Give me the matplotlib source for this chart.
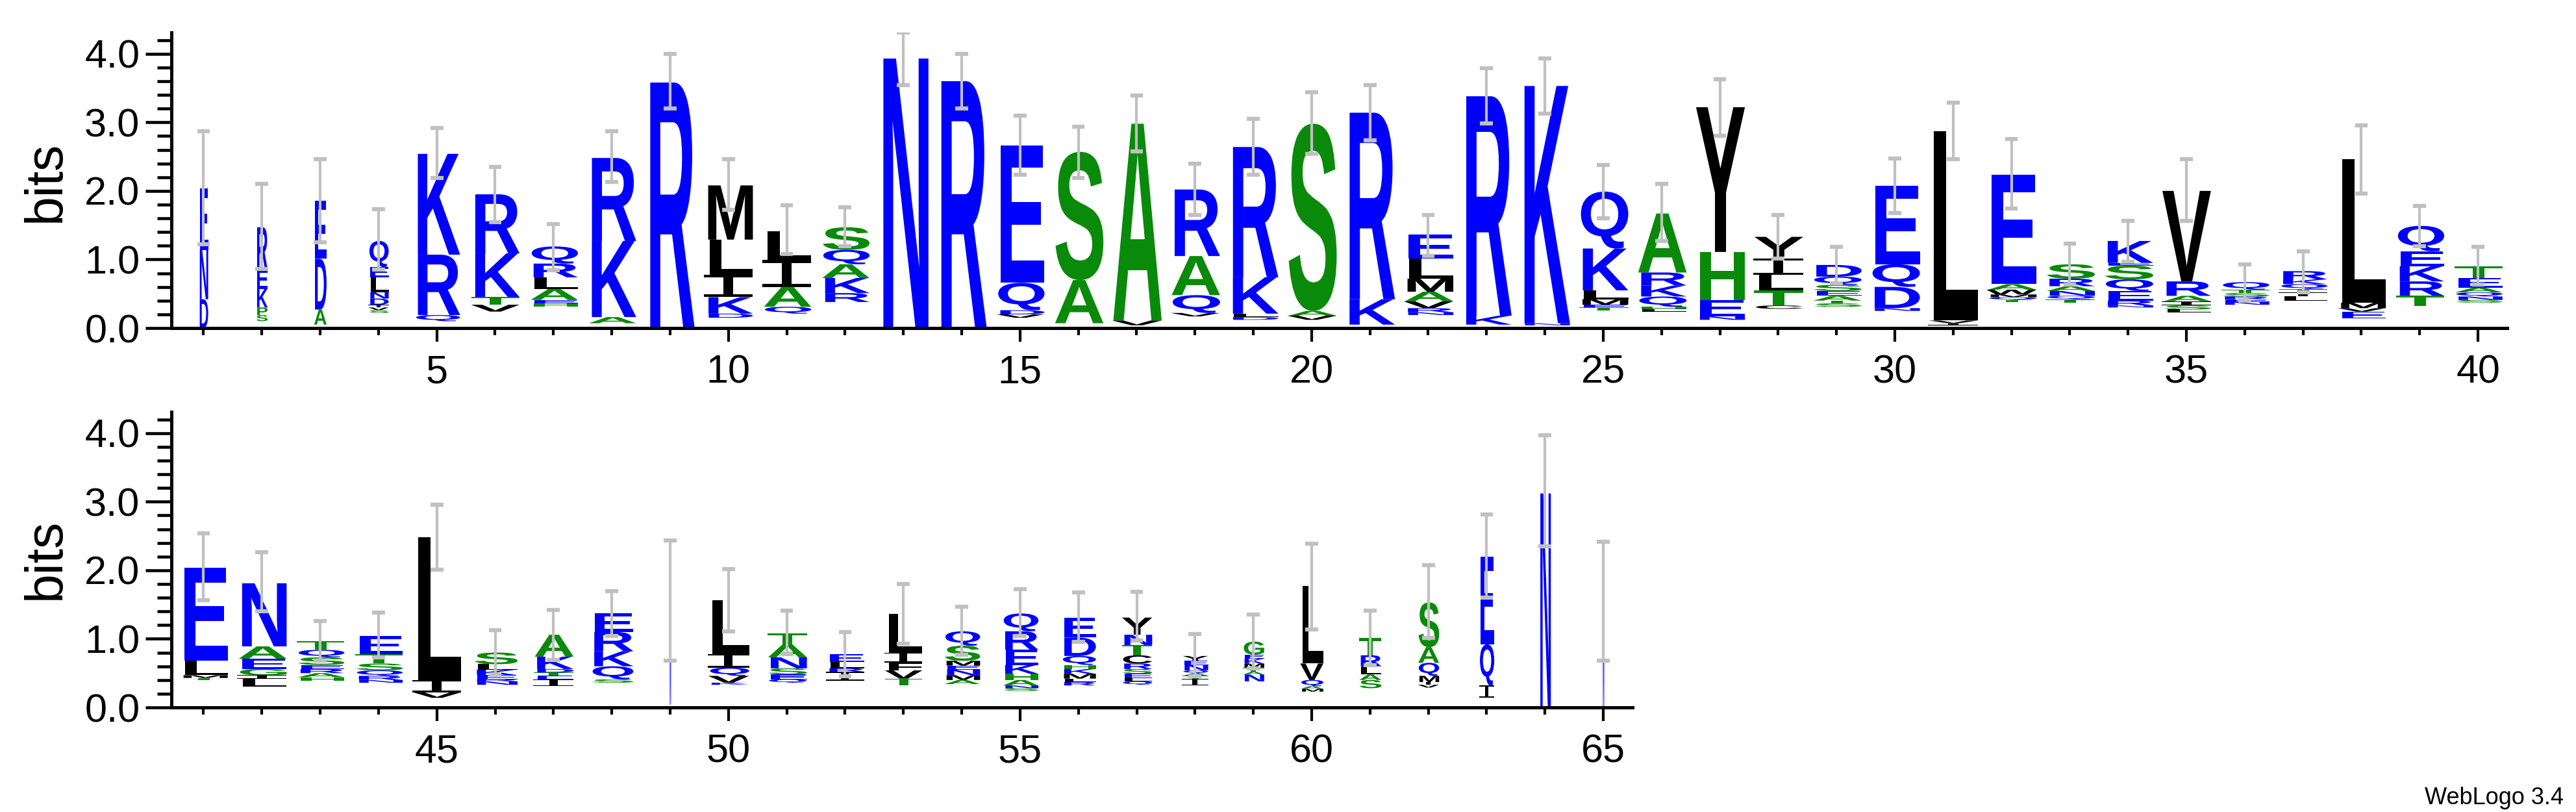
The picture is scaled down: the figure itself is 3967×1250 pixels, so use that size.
import matplotlib
matplotlib.use("Agg")
import matplotlib.pyplot as plt
from matplotlib.textpath import TextPath
from matplotlib.font_manager import FontProperties
from matplotlib.patches import PathPatch, Rectangle
from matplotlib.path import Path
from matplotlib.ticker import MultipleLocator, FormatStrFormatter

# letters listed bottom -> top, heights in bits; stacks hang from the measured top
stack_letters = [
    "DNE", "SPKER", "ADE", "SVIDNLEQ", "QRK", "VTKR", "HEALRQ", "AKR", "R", "DKILM",
    "QAIL", "RKAQS", "N", "R", "VDQE", "AS", "VA", "VQAR", "DLKR", "VAS",
    "KR", "NRVAMLE", "KR", "NK", "TEMLKQ", "LHQKRA", "NEHY", "CTLIY", "STAESQD", "NDQE",
    "IVL", "TQMWAE", "TQNARS", "NREQSEK", "LSIARV", "NERSTQ", "LITQKR", "EVML", "TRKEQ", "SNQAET",
    "TMLE", "LIGEAN", "HARESQT", "NRQSTE", "VIL", "NREKLS", "IETDKA", "SQKRE", "N", "KVQIL",
    "QESNAT", "IRLE", "TVFIL", "AMNEMSQ", "SNAHKERQ", "RLMKHQDE", "QLESRCTNY", "ITAQNEY", "NATMKEG", "MAQVL",
    "SALRT", "VIMQAS", "IQE", "N", "N",
]
stack_heights = [
    [0.42, 0.72, 0.9], [0.09, 0.11, 0.27, 0.28, 0.62], [0.22, 0.74, 0.85],
    [0.04, 0.04, 0.04, 0.09, 0.09, 0.22, 0.15, 0.38], [0.09, 0.88, 1.47], [0.1, 0.11, 0.64, 0.86],
    [0.05, 0.05, 0.16, 0.17, 0.2, 0.25], [0.09, 1.11, 1.21], [3.57], [0.06, 0.24, 0.33, 0.51, 0.79],
    [0.1, 0.29, 0.39, 0.42], [0.13, 0.22, 0.2, 0.21, 0.33], [3.93], [3.6],
    [0.05, 0.06, 0.4, 2.0], [0.63, 1.87], [0.07, 2.87], [0.05, 0.26, 0.57, 0.97],
    [0.04, 0.05, 0.53, 1.9], [0.06, 0.07, 2.73], [0.37, 2.72], [0.04, 0.06, 0.1, 0.14, 0.19, 0.29, 0.35],
    [0.13, 3.2], [0.03, 3.46], [0.04, 0.04, 0.08, 0.13, 0.61, 0.83], [0.03, 0.04, 0.15, 0.16, 0.19, 0.86],
    [0.05, 0.24, 0.7, 2.11], [0.05, 0.22, 0.23, 0.23, 0.32],
    [0.05, 0.04, 0.07, 0.07, 0.09, 0.12, 0.17], [0.04, 0.31, 0.33, 1.14],
    [0.03, 0.04, 2.76], [0.03, 0.04, 0.04, 0.07, 0.08, 1.6], [0.05, 0.05, 0.07, 0.07, 0.11, 0.21],
    [0.03, 0.07, 0.14, 0.17, 0.2, 0.04, 0.32], [0.04, 0.06, 0.06, 0.08, 0.21, 1.32],
    [0.04, 0.04, 0.04, 0.05, 0.05, 0.11], [0.06, 0.06, 0.05, 0.07, 0.07, 0.12],
    [0.1, 0.05, 0.08, 2.09], [0.05, 0.15, 0.21, 0.22, 0.22, 0.37], [0.04, 0.05, 0.06, 0.07, 0.14, 0.17],
    [0.03, 0.04, 0.21, 1.36], [0.12, 0.05, 0.09, 0.15, 0.18, 0.92], [0.05, 0.06, 0.06, 0.06, 0.11, 0.11, 0.13],
    [0.04, 0.06, 0.08, 0.1, 0.14, 0.26], [0.08, 0.18, 2.08], [0.05, 0.03, 0.06, 0.08, 0.08, 0.17],
    [0.1, 0.05, 0.05, 0.05, 0.18, 0.32], [0.08, 0.05, 0.19, 0.22, 0.28, 0.27], [1.52],
    [0.03, 0.1, 0.12, 0.2, 0.78], [0.05, 0.05, 0.07, 0.09, 0.16, 0.19, 0.16], [0.13, 0.05, 0.09, 0.12],
    [0.04, 0.1, 0.12, 0.11, 0.15, 0.56], [0.06, 0.07, 0.08, 0.06, 0.07, 0.22, 0.21],
    [0.04, 0.04, 0.08, 0.09, 0.13, 0.22, 0.27, 0.26], [0.04, 0.05, 0.05, 0.07, 0.07, 0.06, 0.13, 0.27, 0.29],
    [0.05, 0.05, 0.06, 0.07, 0.08, 0.12, 0.15, 0.15, 0.25], [0.1, 0.04, 0.04, 0.04, 0.08, 0.06, 0.07],
    [0.1, 0.04, 0.06, 0.06, 0.07, 0.06, 0.19], [0.06, 0.04, 0.04, 0.09, 0.24, 1.13],
    [0.12, 0.08, 0.12, 0.16, 0.25], [0.04, 0.04, 0.09, 0.19, 0.23, 0.65], [0.18, 0.6, 1.28], [3.12], [1.52],
]
stack_tops = [
    2.04, 1.47, 1.86, 1.27, 2.54, 1.95, 1.19, 2.48, 3.58, 2.08,
    1.41, 1.47, 3.93, 3.6, 2.66, 2.57, 2.98, 2.02, 2.64, 2.98,
    3.14, 1.36, 3.38, 3.53, 1.99, 1.67, 3.22, 1.33, 0.92, 2.07,
    2.87, 2.24, 0.93, 1.27, 2.0, 0.67, 0.83, 2.46, 1.49, 0.9,
    2.04, 1.81, 0.97, 1.04, 2.48, 0.8, 1.06, 1.37, 1.56, 1.56,
    1.08, 0.78, 1.36, 1.11, 1.37, 1.31, 1.31, 0.75, 0.96, 1.77,
    1.01, 1.53, 2.2, 3.12, 1.52,
]
col_widths = [
    0.16, 0.2, 0.22, 0.35, 0.8, 0.84, 0.84, 0.84, 0.84, 0.84,
    0.84, 0.84, 0.86, 0.86, 0.84, 0.86, 0.86, 0.86, 0.86, 0.86,
    0.86, 0.86, 0.86, 0.86, 0.86, 0.86, 0.86, 0.86, 0.86, 0.86,
    0.86, 0.86, 0.86, 0.86, 0.84, 0.84, 0.84, 0.84, 0.84, 0.84,
    0.83, 0.85, 0.83, 0.83, 0.83, 0.77, 0.69, 0.74, 0.03, 0.71,
    0.69, 0.66, 0.65, 0.63, 0.63, 0.6, 0.53, 0.45, 0.37, 0.4,
    0.39, 0.37, 0.26, 0.2, 0.03,
]
err_hi = [
    2.87, 2.1, 2.46, 1.73, 2.92, 2.35, 1.52, 2.87, 4.0, 2.46,
    1.79, 1.76, 4.31, 4.0, 3.1, 2.94, 3.39, 2.4, 3.05, 3.44,
    3.54, 1.65, 3.79, 3.93, 2.38, 2.1, 3.63, 1.65, 1.18, 2.47,
    3.29, 2.76, 1.23, 1.56, 2.46, 0.93, 1.12, 2.96, 1.78, 1.18,
    2.54, 2.26, 1.26, 1.38, 2.96, 1.13, 1.42, 1.7, 2.43, 2.02,
    1.41, 1.1, 1.8, 1.47, 1.72, 1.68, 1.69, 1.07, 1.35, 2.39,
    1.41, 2.07, 2.81, 3.97, 2.42,
]
err_lo = [
    1.22, 0.86, 1.25, 0.85, 2.19, 1.54, 0.84, 2.13, 3.2, 1.72,
    1.08, 1.19, 3.54, 3.2, 2.24, 2.19, 2.58, 1.65, 2.24, 2.54,
    2.74, 1.05, 2.98, 3.13, 1.6, 1.27, 2.8, 1.01, 0.65, 1.68,
    2.46, 1.74, 0.63, 0.97, 1.56, 0.4, 0.52, 1.96, 1.19, 0.63,
    1.56, 1.4, 0.68, 0.73, 2.01, 0.48, 0.69, 1.04, 0.68, 1.11,
    0.78, 0.45, 0.93, 0.77, 1.04, 0.96, 0.98, 0.45, 0.57, 1.14,
    0.62, 1.01, 1.6, 2.35, 0.68,
]

BLUE = "#0000ff"
GREEN = "#0a8a0a"
BLACK = "#000000"
color_of = {}
for c in "KRDEQN":
    color_of[c] = BLUE
for c in "ASTGHP":
    color_of[c] = GREEN
for c in "LMIVYCFW":
    color_of[c] = BLACK

letter_font = FontProperties(family="Liberation Sans", weight="bold")
glyphs = {}


def glyph(c):
    if c not in glyphs:
        p = TextPath((0, 0), c, size=1, prop=letter_font)
        v = p.vertices
        x0, y0 = v.min(axis=0)
        x1, y1 = v.max(axis=0)
        glyphs[c] = (p, x0, y0, x1 - x0, y1 - y0)
    return glyphs[c]


def draw_letter(ax, c, xc, ybot, w, h):
    col = color_of[c]
    if c == "I":
        # serif I like the WebLogo font
        bar = 0.12 * h
        for yb in (ybot, ybot + h - bar):
            ax.add_patch(Rectangle((xc - w / 2, yb), w, bar, facecolor=col, edgecolor="none", zorder=2))
        ax.add_patch(Rectangle((xc - 0.1 * w, ybot), 0.2 * w, h, facecolor=col, edgecolor="none", zorder=2))
        return
    p, x0, y0, gw, gh = glyph(c)
    v = p.vertices.copy()
    v[:, 0] = (v[:, 0] - x0) / gw * w + xc - w / 2
    v[:, 1] = (v[:, 1] - y0) / gh * h + ybot
    ax.add_patch(PathPatch(Path(v, p.codes), facecolor=col, edgecolor="none", zorder=2))


W, H = 3967, 1250
fig = plt.figure(figsize=(W / 100, H / 100), dpi=100)
ax1 = fig.add_axes([264 / W, 1 - 505 / H, (3861 - 264) / W, 455 / H])
ax2 = fig.add_axes([264 / W, 1 - 1089 / H, (2514 - 264) / W, 455 / H])

for ax, first, last, xlim in [(ax1, 1, 40, (0.45, 40.5)), (ax2, 41, 65, (40.45, 65.5))]:
    for pos in range(first, last + 1):
        i = pos - 1
        y = stack_tops[i]
        for c, h in zip(stack_letters[i][::-1], stack_heights[i][::-1]):
            y -= h
            draw_letter(ax, c, pos, y, col_widths[i], h)
        ax.plot([pos, pos], [err_lo[i], err_hi[i]], color="#c0c0c0", lw=3, zorder=3, solid_capstyle="butt")
        for yy in (err_lo[i], err_hi[i]):
            ax.plot([pos - 0.11, pos + 0.11], [yy, yy], color="#c0c0c0", lw=4.5, zorder=3, solid_capstyle="butt")
    ax.set_xlim(*xlim)
    ax.set_ylim(0, 4.31)
    for s in ("top", "right"):
        ax.spines[s].set_visible(False)
    for s in ("left", "bottom"):
        ax.spines[s].set_linewidth(3.6)
    ax.xaxis.set_major_locator(MultipleLocator(5))
    ax.xaxis.set_minor_locator(MultipleLocator(1))
    ax.yaxis.set_major_locator(MultipleLocator(1))
    ax.yaxis.set_minor_locator(MultipleLocator(0.2))
    ax.yaxis.set_major_formatter(FormatStrFormatter("%.1f"))
    ax.tick_params(axis="x", which="major", length=15, width=3, pad=14)
    ax.tick_params(axis="x", which="minor", length=8, width=3)
    ax.tick_params(axis="y", which="major", length=29, width=3.3, pad=6)
    ax.tick_params(axis="y", which="minor", length=16, width=3.3)
    for lab in ax.get_xticklabels() + ax.get_yticklabels():
        lab.set_fontfamily("Liberation Sans")
        lab.set_fontsize(44)

fig.text(71 / W, 1 - 279 / H, "bits", rotation=90, ha="center", va="center",
         fontsize=58, family="Liberation Sans")
fig.text(71 / W, 1 - 860 / H, "bits", rotation=90, ha="center", va="center",
         fontsize=58, family="Liberation Sans")
fig.text(3948 / W, 1 - 1229 / H, "WebLogo 3.4", ha="right", va="center",
         fontsize=26, family="Liberation Sans")

fig.savefig("out.png", dpi=100)
